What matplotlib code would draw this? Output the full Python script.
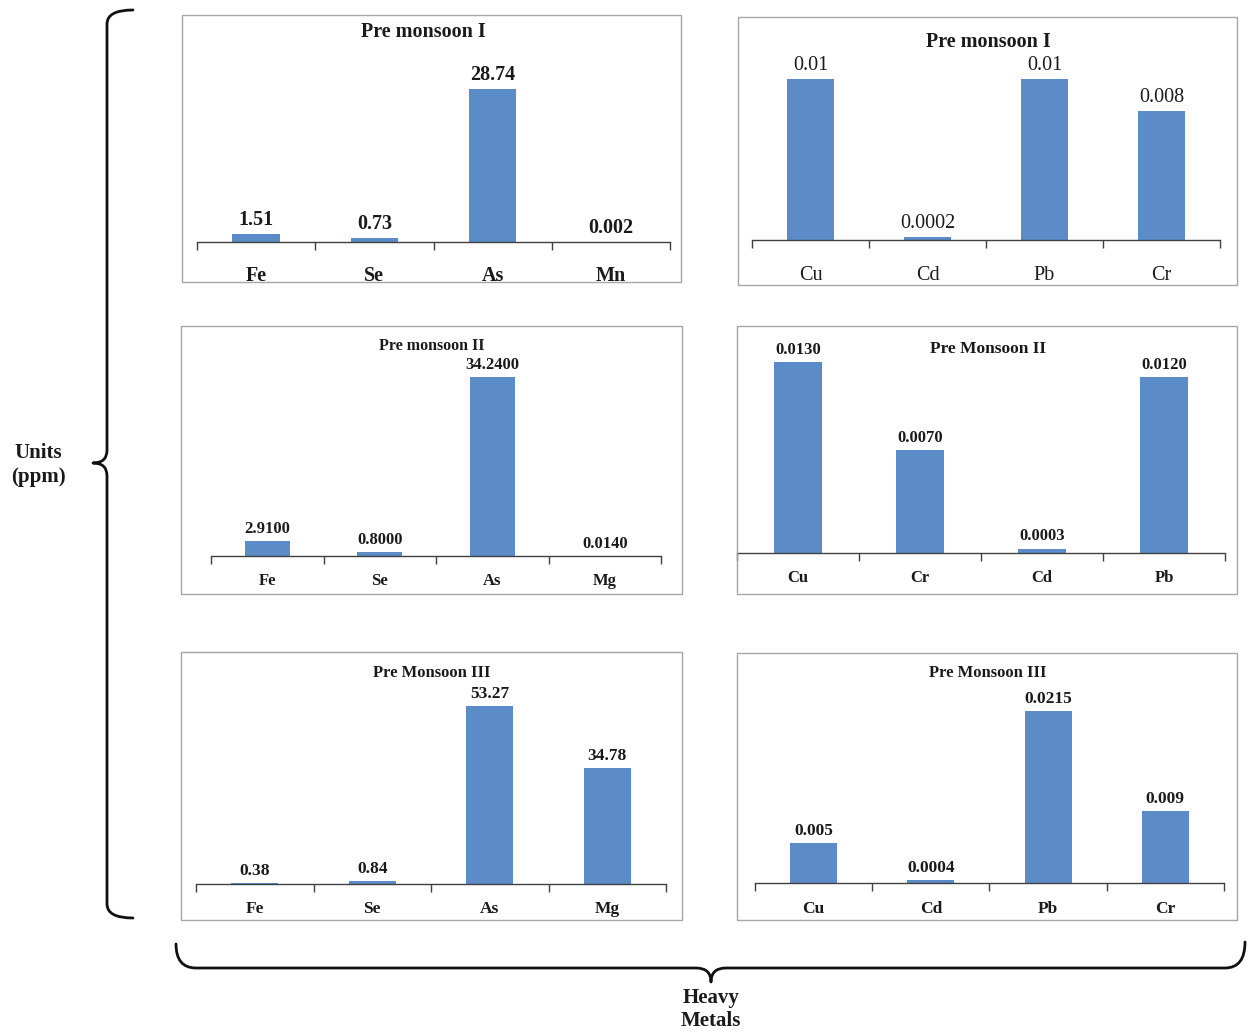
import matplotlib

matplotlib.use("Agg")
import matplotlib.pyplot as plt
from matplotlib.patches import PathPatch, Rectangle
from matplotlib.path import Path

plt.rcParams["font.family"] = ["Liberation Serif", "DejaVu Serif"]

W, H = 1247, 1034
BAR = "#5b8cc8"
AXIS = "#404040"
FRAME = "#a6a6a6"

# heavy metal concentrations (ppm) per sampling period
tl_metals = ["Fe", "Se", "As", "Mn"]
tl_values = [1.51, 0.73, 28.74, 0.002]
tr_metals = ["Cu", "Cd", "Pb", "Cr"]
tr_values = [0.01, 0.0002, 0.01, 0.008]
ml_metals = ["Fe", "Se", "As", "Mg"]
ml_values = [2.91, 0.80, 34.24, 0.014]
mr_metals = ["Cu", "Cr", "Cd", "Pb"]
mr_values = [0.013, 0.007, 0.0003, 0.012]
bl_metals = ["Fe", "Se", "As", "Mg"]
bl_values = [0.38, 0.84, 53.27, 34.78]
br_metals = ["Cu", "Cd", "Pb", "Cr"]
br_values = [0.005, 0.0004, 0.0215, 0.009]
titles = ["Pre monsoon I", "Pre monsoon I", "Pre monsoon II",
          "Pre Monsoon II", "Pre Monsoon III", "Pre Monsoon III"]
label_formats = ["{:g}", "{:g}", "{:.4f}", "{:.4f}", "{:.2f}", "{:g}"]


def fx(x):
    return x / W


def fy(y):
    return 1 - y / H


# frame box, axis extent (left, right, top, baseline), ymax, title centre,
# font size, weight of labels, tick label pad
panels = [
    dict(metals=tl_metals, values=tl_values, frame=(182, 15, 681, 282),
         axes=(197, 670, 50, 242), ymax=36.07, title_xy=(423, 32),
         fs=14.5, tfs=14.5, weight="bold", pad=17),
    dict(metals=tr_metals, values=tr_values, frame=(738, 17, 1237, 285),
         axes=(752, 1220, 50, 240), ymax=0.0118, title_xy=(988, 42),
         fs=14.5, tfs=14.5, weight="normal", pad=18.5),
    dict(metals=ml_metals, values=ml_values, frame=(181, 326, 682, 594),
         axes=(211, 661, 360, 556), ymax=37.49, title_xy=(432, 346),
         fs=12, tfs=11.5, weight="bold", pad=12.5),
    dict(metals=mr_metals, values=mr_values, frame=(737, 326, 1237, 594),
         axes=(737, 1225, 345, 553), ymax=0.01416, title_xy=(988, 349),
         fs=12, tfs=12.5, weight="bold", pad=12.5),
    dict(metals=bl_metals, values=bl_values, frame=(181, 652, 682, 920),
         axes=(196, 666, 690, 884), ymax=58.06, title_xy=(432, 673),
         fs=12.5, tfs=12, weight="bold", pad=12.5),
    dict(metals=br_metals, values=br_values, frame=(737, 653, 1237, 920),
         axes=(755, 1224, 690, 883), ymax=0.02413, title_xy=(988, 673),
         fs=12.5, tfs=12, weight="bold", pad=13),
]

fig = plt.figure(figsize=(W / 100, H / 100), dpi=100)
fig.patch.set_facecolor("white")

for p, title, fmt in zip(panels, titles, label_formats):
    x0, y0, x1, y1 = p["frame"]
    fig.add_artist(Rectangle((fx(x0), fy(y1)), (x1 - x0) / W, (y1 - y0) / H,
                             transform=fig.transFigure, fill=False,
                             edgecolor=FRAME, linewidth=1.0))

    left, right, top, base = p["axes"]
    ax = fig.add_axes([fx(left), fy(base), (right - left) / W, (base - top) / H])
    ax.patch.set_alpha(0)
    pos = list(range(len(p["metals"])))
    ax.bar(pos, p["values"], width=0.4, color=BAR, zorder=2)
    ax.set_xlim(-0.5, len(pos) - 0.5)
    ax.set_ylim(0, p["ymax"])

    for side in ["left", "right", "top"]:
        ax.spines[side].set_visible(False)
    ax.spines["bottom"].set_color(AXIS)
    ax.spines["bottom"].set_linewidth(1.0)
    ax.spines["bottom"].set_zorder(3)
    ax.set_yticks([])

    # tick marks sit between categories, names sit under the bars
    ax.set_xticks([i - 0.5 for i in range(len(pos) + 1)])
    ax.set_xticklabels([])
    ax.tick_params(axis="x", which="major", length=6, width=1.0,
                   direction="out", color=AXIS)
    ax.set_xticks(pos, minor=True)
    ax.set_xticklabels(p["metals"], minor=True, fontsize=p["fs"],
                       fontweight=p["weight"], color="#1a1a1a")
    ax.tick_params(axis="x", which="minor", length=0, pad=p["pad"])

    for i, v in zip(pos, p["values"]):
        ax.annotate(fmt.format(v), (i, v), xytext=(0, 3),
                    textcoords="offset points", ha="center", va="bottom",
                    fontsize=p["fs"], fontweight=p["weight"],
                    color="#1a1a1a", annotation_clip=False)

    tx, ty = p["title_xy"]
    fig.text(fx(tx), fy(ty), title, ha="center", va="center",
             fontsize=p["tfs"], fontweight="bold", color="#1a1a1a")


def brace(points_codes):
    verts = [(fx(x), fy(y)) for x, y, _ in points_codes]
    codes = [c for _, _, c in points_codes]
    fig.add_artist(PathPatch(Path(verts, codes), transform=fig.transFigure,
                             fill=False, edgecolor="#111111", linewidth=2.0,
                             capstyle="round", joinstyle="round"))


M, L, C = Path.MOVETO, Path.LINETO, Path.CURVE3

# left brace, opening towards the charts
brace([
    (133, 10, M), (107, 10, C), (107, 24, C),
    (107, 450, L), (107, 463, C), (93, 463, C),
    (107, 463, C), (107, 476, C),
    (107, 904, L), (107, 918, C), (133, 918, C),
])

# bottom brace, opening upwards
brace([
    (176, 944, M), (176, 968, C), (196, 968, C),
    (696, 968, L), (711, 968, C), (711, 982, C),
    (711, 968, C), (726, 968, C),
    (1225, 968, L), (1245, 968, C), (1245, 942, C),
])

fig.text(fx(38), fy(465), "Units\n(ppm)", ha="center", va="center",
         fontsize=15, fontweight="bold", linespacing=1.25, color="#1a1a1a")
fig.text(fx(711), fy(1010), "Heavy\nMetals", ha="center", va="center",
         fontsize=15, fontweight="bold", linespacing=1.2, color="#1a1a1a")

fig.savefig("out.png", dpi=100, facecolor="white")
